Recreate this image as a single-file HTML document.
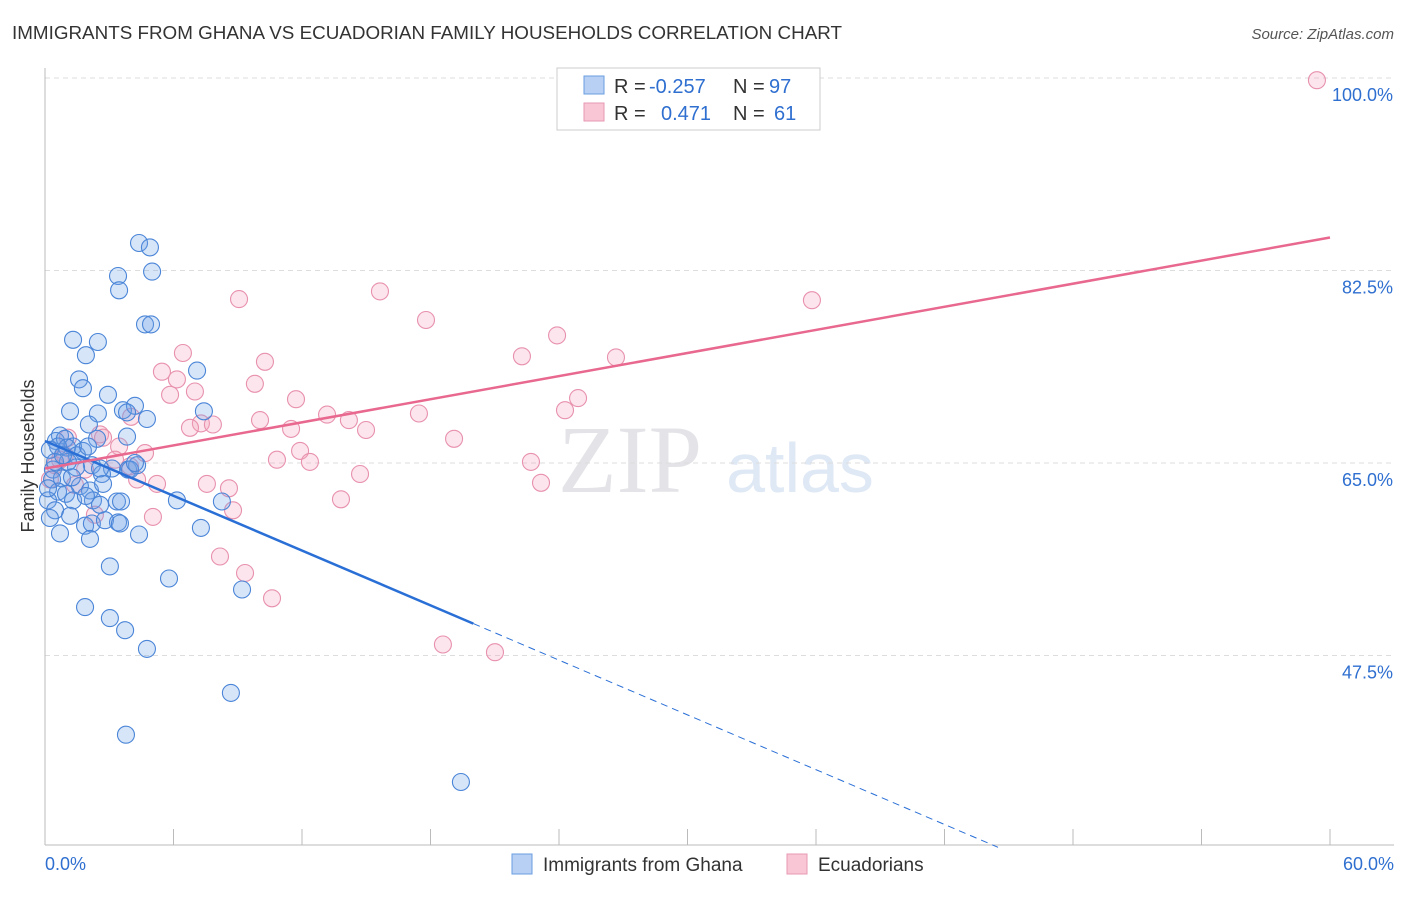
<!DOCTYPE html>
<html><head><meta charset="utf-8"><style>
body{margin:0;background:#fff;font-family:"Liberation Sans",sans-serif;}
</style></head><body>
<svg id="chart" width="1406" height="892" xmlns="http://www.w3.org/2000/svg">
<text x="12" y="39" font-size="18" fill="#333" textLength="830" lengthAdjust="spacingAndGlyphs">IMMIGRANTS FROM GHANA VS ECUADORIAN FAMILY HOUSEHOLDS CORRELATION CHART</text>
<text x="1394" y="39" font-size="15" fill="#555" font-style="italic" text-anchor="end">Source: ZipAtlas.com</text>
<text x="630" y="492" font-size="96" fill="#e4e4e8" font-family="Liberation Serif,serif" text-anchor="middle">ZIP</text>
<text x="800" y="492" font-size="70" fill="#dfe8f5" text-anchor="middle">atlas</text>
<g id="grid"></g>
<g id="axes"></g>
<g id="marks"></g>
<text x="34" y="456" font-size="18" fill="#333" text-anchor="middle" transform="rotate(-90 34 456)">Family Households</text>
<g>
<rect x="557" y="68" width="263" height="62" fill="#fff" stroke="#ccc"/>
<rect x="584" y="76" width="20" height="18" fill="#b8d0f4" stroke="#6a9de0"/>
<rect x="584" y="103" width="20" height="18" fill="#f9c6d6" stroke="#e899b3"/>
<g font-size="20" fill="#333">
<text x="614" y="93">R =</text><text x="649" y="93" fill="#2f6fd0">-0.257</text><text x="733" y="93">N =</text><text x="769" y="93" fill="#2f6fd0">97</text>
<text x="614" y="120">R =</text><text x="661" y="120" fill="#2f6fd0">0.471</text><text x="733" y="120">N =</text><text x="774" y="120" fill="#2f6fd0">61</text>
</g>
</g>
<g>
<rect x="512" y="854" width="20" height="20" fill="#b8d0f4" stroke="#6a9de0"/>
<text x="543" y="871" font-size="19" fill="#333">Immigrants from Ghana</text>
<rect x="787" y="854" width="20" height="20" fill="#f9c6d6" stroke="#e899b3"/>
<text x="818" y="871" font-size="19" fill="#333">Ecuadorians</text>
</g>
</svg>
<script>
const yTicks=[100,82.5,65,47.5];
const yTickLabels=["100.0%","82.5%","65.0%","47.5%"];
const xTickLabels=["0.0%","60.0%"];
const ghanaX=[4.39,4.9,3.41,5.0,3.46,4.67,4.95,1.31,2.47,1.91,7.1,1.59,1.77,2.94,1.17,2.47,3.64,4.2,3.83,7.42,4.76,2.05,0.7,0.51,0.93,2.43,3.83,1.31,1.77,0.61,0.23,1.03,1.49,2.19,3.13,3.88,4.3,2.66,1.45,0.37,0.79,0.33,1.63,0.61,0.98,2.1,2.71,3.36,3.55,2.24,1.31,0.14,6.16,8.26,0.47,1.17,1.87,2.19,2.8,3.41,3.5,0.7,2.1,4.39,7.28,0.23,3.03,5.79,9.2,1.87,3.03,3.74,4.76,8.68,3.78,19.42,1.07,0.47,1.26,1.91,2.57,0.84,0.14,2.01,3.97,4.2,2.57];
const ghanaY=[85.0,84.6,82.0,82.4,80.7,77.6,77.6,76.2,76.0,74.8,73.4,72.6,71.8,71.2,69.7,69.5,69.8,70.2,69.6,69.7,69.0,68.5,67.5,67.0,67.2,67.2,67.4,66.5,66.1,66.5,66.2,66.4,65.7,64.8,64.5,64.4,64.8,64.0,64.6,64.4,63.6,63.5,62.9,62.4,62.2,62.5,63.1,61.5,61.5,61.6,61.6,61.6,61.6,61.5,60.7,60.2,59.3,59.5,59.8,59.6,59.5,58.6,58.1,58.5,59.1,60.0,55.6,54.5,53.5,51.9,50.9,49.8,48.1,44.1,40.3,36.0,65.1,65.1,63.7,62.0,61.2,65.7,62.7,66.5,64.4,65.0,64.5];
const ecuX=[59.39,15.64,9.06,35.81,17.79,23.91,6.44,10.27,22.27,26.66,5.46,6.16,7.0,9.8,5.84,11.72,24.89,24.28,17.46,13.17,14.19,10.04,7.28,7.84,6.77,11.49,14.99,19.1,4.02,11.91,2.57,3.46,4.67,1.07,12.37,10.83,22.69,14.71,7.56,8.59,23.16,5.23,13.82,8.78,5.04,8.17,9.34,10.6,18.58,21.01,2.71,3.27,3.97,1.87,0.7,0.23,1.4,0.93,2.33,0.47,4.3];
const ecuY=[99.8,80.6,79.9,79.8,78.0,76.6,75.0,74.2,74.7,74.6,73.3,72.6,71.5,72.2,71.2,70.8,70.9,69.8,69.5,69.4,68.9,68.9,68.6,68.5,68.2,68.1,68.0,67.2,69.2,66.1,67.6,66.5,65.9,67.3,65.1,65.3,65.1,64.0,63.1,62.7,63.2,63.1,61.7,60.7,60.1,56.5,55.0,52.7,48.5,47.8,67.3,65.3,64.7,64.4,65.3,63.5,63.0,65.7,60.3,64.8,63.5];
const ghanaTrend=[67.0,-0.83]; // intercept, slope
const ecuTrend=[64.5,0.35];
const NS="http://www.w3.org/2000/svg";
const X0=45,X1=1330,Y65=463,PXPER=11;
function xs(v){return X0+(v/60)*(X1-X0);}
function ys(v){return Y65-(v-65)*PXPER;}
function mk(tag,attrs,parent){const e=document.createElementNS(NS,tag);for(const k in attrs)e.setAttribute(k,attrs[k]);document.getElementById(parent).appendChild(e);return e;}
yTicks.forEach((t,i)=>{
 const l=mk('line',{x1:45,x2:1394,y1:ys(t),y2:ys(t),stroke:'#ddd','stroke-dasharray':'5,4'},'grid');
 
 
 const tx=mk('text',{x:1393,y:ys(t)+23,'font-size':18,fill:'#2f6fd0','text-anchor':'end'},'axes');
 tx.textContent=yTickLabels[i];
 
 
});
const ax=mk('line',{x1:45,x2:45,y1:68,y2:845,stroke:'#bbb'},'axes');


const bx=mk('line',{x1:45,x2:1394,y1:845,y2:845,stroke:'#bbb'},'axes');


for(let i=0;i<=10;i++){
 const t=mk('line',{x1:xs(i*6),x2:xs(i*6),y1:829,y2:845,stroke:'#bbb'},'axes');
 
 
}
[[0,'start',45],[60,'end',1394]].forEach((d,i)=>{
 const t=mk('text',{x:d[2],y:870,'font-size':18,fill:'#2f6fd0','text-anchor':d[1]},'axes');
 t.textContent=xTickLabels[i];
 
 
});
function dots(X,Y,fill,stroke,name){
 X.forEach((x,i)=>{
  const c=mk('circle',{cx:xs(x),cy:ys(Y[i]),r:8.5,fill:fill,stroke:stroke,'stroke-width':1.1},'marks');
  
  
 });
}
dots(ecuX,ecuY,'rgba(244,160,188,0.28)','#e891ad','ecuadorians-point');
dots(ghanaX,ghanaY,'rgba(110,160,230,0.28)','#4a85d8','ghana-point');
function tl(tr,a,b,col,dash,name){
 const l=mk('line',{x1:xs(a),y1:ys(tr[0]+tr[1]*a),x2:xs(b),y2:ys(tr[0]+tr[1]*b),stroke:col,'stroke-width':dash?1:2.5},'marks');
 if(dash)l.setAttribute('stroke-dasharray','7,5');
 
 
}
tl(ghanaTrend,0,20,'#2a6fd6',false,'ghana-trend-line');
tl(ghanaTrend,20,44.5,'#2a6fd6',true,'ghana-trend-extension');
tl(ecuTrend,0,60,'#e8688f',false,'ecuadorians-trend-line');
</script>
</body></html>
